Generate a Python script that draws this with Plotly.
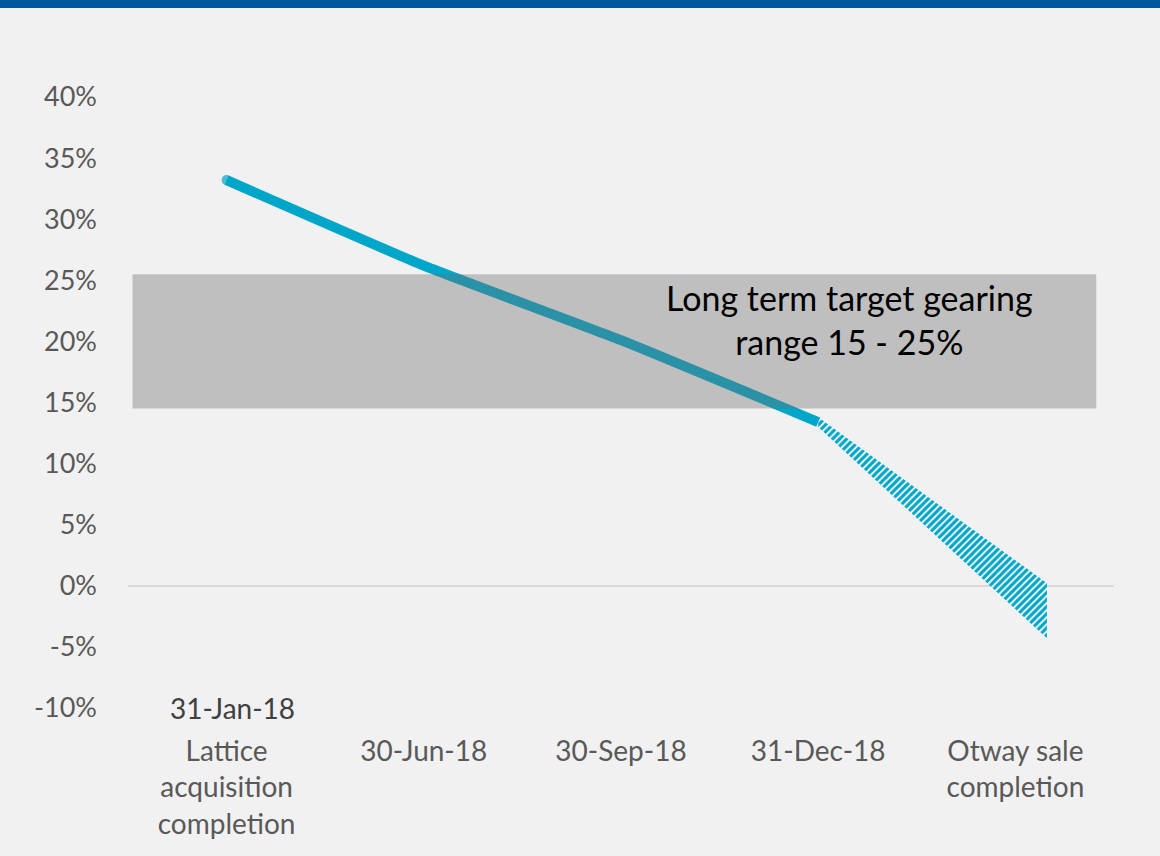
import plotly.graph_objects as go

# ---- data ----
categories = ["Lattice<br>acquisition<br>completion", "30-Jun-18", "30-Sep-18", "31-Dec-18", "Otway sale<br>completion"]
cat_pos = [0, 1, 2, 3, 4]
gearing_x = [0, 1, 2, 3]
gearing = [33.2, 26.2, 20.1, 13.4]          # % gearing
proj_x = [3, 4.16]                          # projected wedge after Otway sale
proj_top = [13.8, 0.2]
proj_bottom = [13.0, -4.3]
target_low, target_high = 14.5, 25.5        # long-term target band (as drawn)
y_ticks = [-10, -5, 0, 5, 10, 15, 20, 25, 30, 35, 40]

FONT = "Lato"
CYAN = "#00a6c8"
BG = "#f1f1f1"

fig = go.Figure()

# projected hatched wedge
fig.add_trace(go.Scatter(
    x=proj_x + proj_x[::-1],
    y=proj_top + proj_bottom[::-1],
    mode="lines", fill="toself",
    line=dict(width=0, color=CYAN),
    fillcolor="white",
    fillpattern=dict(shape="/", fgcolor=CYAN, bgcolor="white", size=5,
                     solidity=0.65, fgopacity=1),
    hoverinfo="skip", showlegend=False,
))

# gearing line
fig.add_trace(go.Scatter(
    x=gearing_x, y=gearing, mode="lines+markers",
    line=dict(color=CYAN, width=10, shape="spline", smoothing=0.4),
    marker=dict(size=[10, 0, 0, 0], color=CYAN, line=dict(width=0)),
    showlegend=False,
))

fig.update_layout(
    width=1160, height=856,
    paper_bgcolor=BG, plot_bgcolor=BG,
    margin=dict(l=128, r=46, t=97, b=148),
    font=dict(family=FONT, size=27, color="#595959"),
    xaxis=dict(
        range=[-0.5, 4.5], tickmode="array", tickvals=cat_pos, ticktext=categories,
        showgrid=False, zeroline=False, showline=False, ticks="",
        ticklabelstandoff=24,
        tickfont=dict(family=FONT, size=28, color="#595959"),
    ),
    yaxis=dict(
        range=[-10, 40], tickmode="array", tickvals=y_ticks,
        ticktext=[f"{v}%" for v in y_ticks],
        showgrid=False, zeroline=True, zerolinecolor="#d9d9d9", zerolinewidth=2,
        showline=False, ticks="", ticklabelstandoff=30,
        tickfont=dict(family=FONT, size=27, color="#595959"),
    ),
    shapes=[
        dict(type="rect", xref="x", yref="y", x0=-0.477, x1=4.41,
             y0=target_low, y1=target_high, layer="above",
             fillcolor="rgba(110,110,110,0.38)", line=dict(width=0)),
        dict(type="rect", xref="paper", yref="paper", x0=-0.2, x1=1.1,
             y0=1 + 89 / 611, y1=1 + 97 / 611, fillcolor="#00579b",
             line=dict(width=0), layer="above"),
    ],
    annotations=[
        dict(text="Long term target gearing<br>range 15 - 25%", x=3.16, y=21.8,
             xref="x", yref="y", showarrow=False,
             font=dict(family=FONT, size=34, color="#000000"), align="center"),
        dict(text="31-Jan-18", x=0.03, y=-10, xref="x", yref="y", showarrow=False,
             yanchor="middle", font=dict(family=FONT, size=28, color="#404040")),
    ],
)

fig.write_html(
    "out.html",
    config={"displayModeBar": False},
    post_script="document.body.style.margin='0';document.body.style.background='#f1f1f1';",
)
